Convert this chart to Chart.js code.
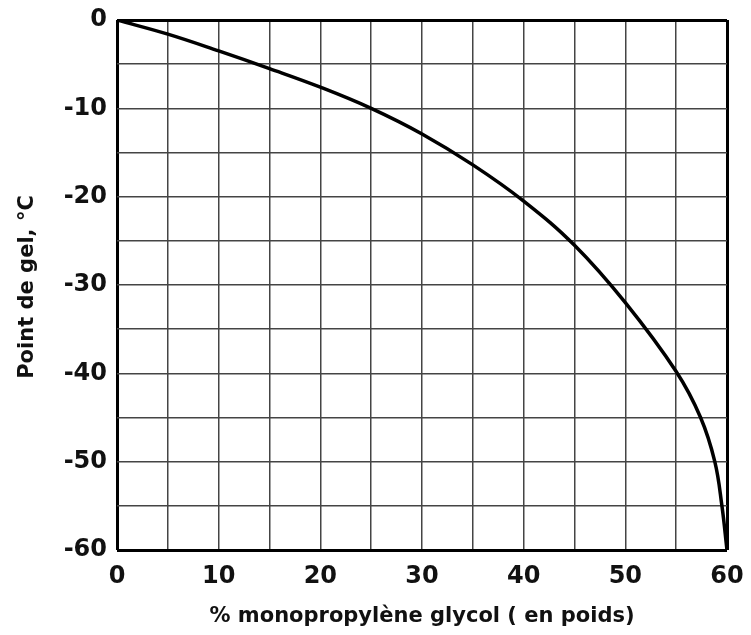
<!DOCTYPE html>
<html>
<head>
<meta charset="utf-8">
<script src="https://cdn.jsdelivr.net/npm/chart.js@4/dist/chart.umd.min.js"></script>
<style>
  body { margin: 0; background: #fff; }
  canvas { display: block; }
</style>
</head>
<body>
<canvas id="myChart" width="751" height="635"></canvas>
<script>
// % monopropylene glycol (en poids) vs point de gel
const percent = [0, 5, 10, 15, 20, 25, 30, 35, 40, 45, 50, 55, 57.4, 58.8, 59.5, 60];
const freezePoint = [0, -1.6, -3.5, -5.5, -7.6, -10, -12.9, -16.4, -20.5, -25.5, -32, -39.8, -45, -50, -55, -60];
const xTitle = "% monopropylène glycol ( en poids)";
const yTitle = "Point de gel, °C";

const points = percent.map((p, i) => ({ x: p, y: freezePoint[i] }));

const axisFont = { family: "DejaVu Sans", size: 24, weight: "bold" };
const titleFont = "bold 21px 'DejaVu Sans'";

// axis titles drawn by hand so they sit where the original puts them
const axisTitles = {
  id: "axisTitles",
  afterDraw(chart) {
    const c = chart.ctx;
    const a = chart.chartArea;
    c.save();
    c.fillStyle = "#111";
    c.font = titleFont;
    c.textAlign = "center";
    c.textBaseline = "alphabetic";
    c.fillText(xTitle, (a.left + a.right) / 2, 622);
    c.translate(33, (a.top + a.bottom) / 2 + 2);
    c.rotate(-Math.PI / 2);
    c.fillText(yTitle, 0, 0);
    c.restore();
  },
};

const edge = (ctx, lo, hi) =>
  ctx.tick && (ctx.tick.value === lo || ctx.tick.value === hi) ? 3 : 1.5;

new Chart(document.getElementById("myChart"), {
  type: "scatter",
  data: {
    datasets: [
      {
        data: points,
        showLine: true,
        borderColor: "#000",
        borderWidth: 3.5,
        pointRadius: 0,
        tension: 0.4,
      },
    ],
  },
  options: {
    responsive: false,
    animation: false,
    layout: { autoPadding: false, padding: { top: 20, right: 24, bottom: 0, left: 0 } },
    plugins: { legend: { display: false }, tooltip: { enabled: false } },
    scales: {
      x: {
        type: "linear",
        min: 0,
        max: 60,
        afterFit(scale) {
          scale.height = 85;
          scale.paddingLeft = 0;
          scale.paddingRight = 0;
        },
        border: { display: false },
        grid: {
          drawTicks: false,
          color: (ctx) => (edge(ctx, 0, 60) > 2 ? "#000" : "#444"),
          lineWidth: (ctx) => edge(ctx, 0, 60),
        },
        ticks: {
          stepSize: 5,
          padding: 12,
          color: "#111",
          font: axisFont,
          maxRotation: 0,
          callback: (v) => (v % 10 === 0 ? String(v) : ""),
        },
      },
      y: {
        min: -60,
        max: 0,
        afterFit(scale) {
          scale.width = 117;
          scale.paddingTop = 0;
          scale.paddingBottom = 0;
        },
        border: { display: false },
        grid: {
          drawTicks: false,
          color: (ctx) => (edge(ctx, -60, 0) > 2 ? "#000" : "#444"),
          lineWidth: (ctx) => edge(ctx, -60, 0),
        },
        ticks: {
          stepSize: 5,
          padding: 10,
          color: "#111",
          font: axisFont,
          callback: (v) => (v % 10 === 0 ? String(v) : ""),
        },
      },
    },
  },
  plugins: [axisTitles],
});
</script>
</body>
</html>
